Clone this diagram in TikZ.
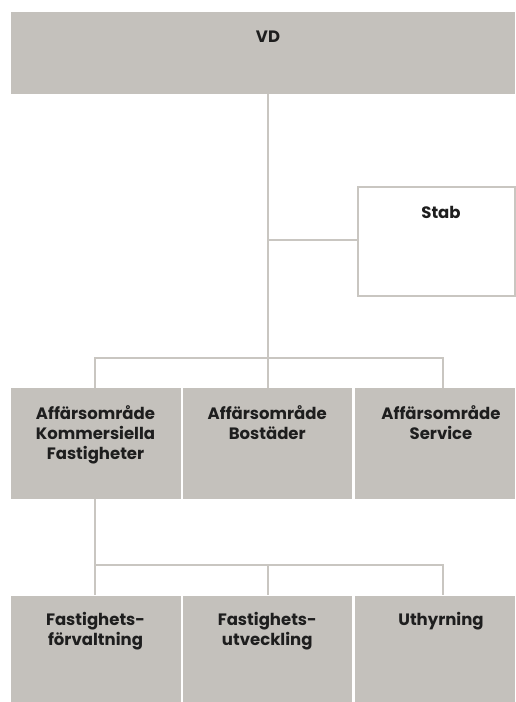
\documentclass[tikz,border=0pt]{standalone}
\usepackage{fontspec}
\setmainfont{Poppins}
\definecolor{boxfill}{HTML}{C4C1BC}
\definecolor{linegray}{HTML}{C9C6C1}
\definecolor{txt}{HTML}{1E1E1E}
\begin{document}
\begin{tikzpicture}[x=1pt,y=-1pt,
  conn/.style={draw=linegray,line width=2pt},
  graybox/.style={fill=boxfill,draw=none,inner sep=0pt},
  whitebox/.style={fill=white,draw=linegray,line width=2pt,inner sep=0pt},
  lbl/.style={font=\bfseries\fontsize{16.5}{20}\selectfont,text=txt,align=center,inner sep=0pt,anchor=north}]
\useasboundingbox (0,0) rectangle (515,702);
\fill[white] (0,0) rectangle (515,702);
% boxes
\node[graybox,minimum width=504.5pt,minimum height=82.5pt] (vd) at (262.75,52.75) {};
\node[whitebox,minimum width=157pt,minimum height=109pt] (stab) at (436.5,241.5) {};
\node[graybox,minimum width=170pt,minimum height=110.5pt] (b1) at (95.5,443.25) {};
\node[graybox,minimum width=169.5pt,minimum height=110.5pt] (b2) at (267.25,443.25) {};
\node[graybox,minimum width=160pt,minimum height=110.5pt] (b3) at (435,443.25) {};
\node[graybox,minimum width=170pt,minimum height=106.5pt] (c1) at (95.5,648.75) {};
\node[graybox,minimum width=169.5pt,minimum height=106.5pt] (c2) at (267.25,648.75) {};
\node[graybox,minimum width=160pt,minimum height=106.5pt] (c3) at (435,648.75) {};
% labels
\node[lbl] (tvd) at (268,31) {VD};
\node[lbl] (tstab) at (441,206) {Stab};
\node[lbl] (tb1) at (95.5,405) {Affärsområde\\Kommersiella\\Fastigheter};
\node[lbl] (tb2) at (267.25,405) {Affärsområde\\Bostäder};
\node[lbl] (tb3) at (441,405) {Affärsområde\\Service};
\node[lbl] (tc1) at (95.5,612) {Fastighets-\\förvaltning};
\node[lbl] (tc2) at (267.25,612) {Fastighets-\\utveckling};
\node[lbl] (tc3) at (441,612) {Uthyrning};
% junction coordinates
\coordinate (vdout) at (268,94);
\coordinate (sj) at (268,240);
\coordinate (h1) at (268,358);
\coordinate (h1l) at (95,358);
\coordinate (h1r) at (442.5,358);
\coordinate (b1out) at (95,498.5);
\coordinate (h2l) at (95,565);
\coordinate (h2m) at (268,565);
\coordinate (h2r) at (442.5,565);
% connectors
\draw[conn] (vdout) -- (h1) -- (h1 |- b2.north);
\draw[conn] (sj) -- (stab.west |- sj);
\draw[conn] (h1l |- b1.north) -- (h1l) -- (h1r) -- (h1r |- b3.north);
\draw[conn] (b1out) -- (h2l |- c1.north);
\draw[conn] (h2l) -- (h2r) -- (h2r |- c3.north);
\draw[conn] (h2m) -- (h2m |- c2.north);
\end{tikzpicture}
\end{document}
